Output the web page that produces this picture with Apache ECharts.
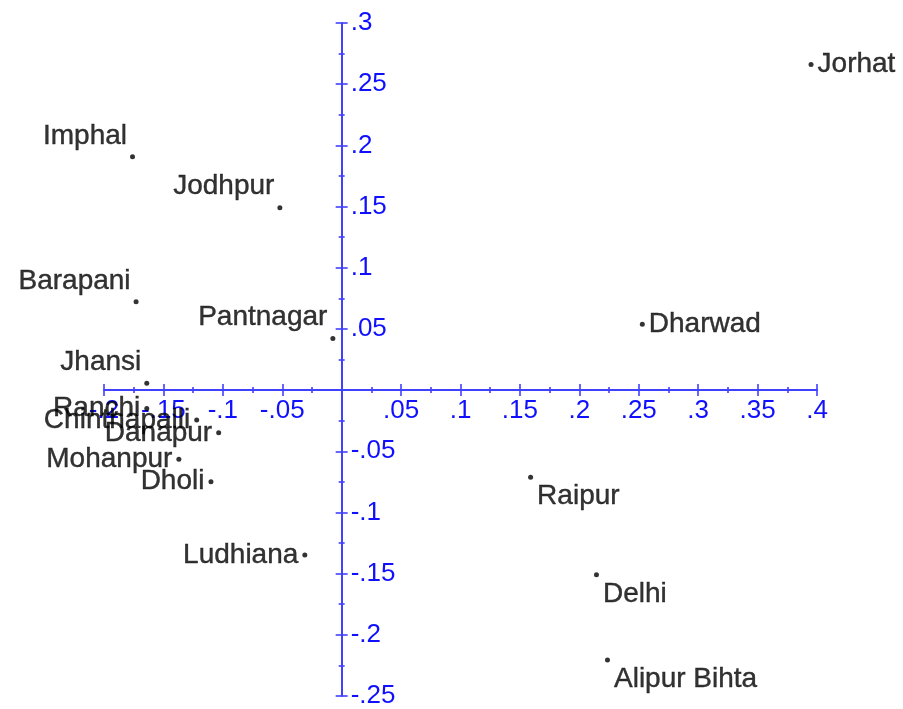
<!DOCTYPE html>
<html>
<head>
<meta charset="utf-8">
<script src="https://cdn.jsdelivr.net/npm/echarts@6/dist/echarts.min.js"></script>
<style>
  html, body { margin: 0; padding: 0; background: #fff; }
  #chart { width: 903px; height: 709px; }
</style>
</head>
<body>
<div id="chart"></div>
<script>
// station names and their coordinates on the two components
const cities = ['Jorhat', 'Imphal', 'Jodhpur', 'Barapani', 'Pantnagar', 'Dharwad', 'Jhansi',
  'Ranchi', 'Chinthapalli', 'Danapur', 'Mohanpur', 'Dholi', 'Ludhiana', 'Raipur', 'Delhi', 'Alipur Bihta']
const xValues = [0.395, -0.176, -0.052, -0.173, -0.0074, 0.253, -0.164,
  -0.164, -0.122, -0.1035, -0.137, -0.110, -0.031, 0.159, 0.2144, 0.2237]
const yValues = [0.266, 0.1906, 0.149, 0.0721, 0.0422, 0.0539, 0.0055,
  -0.015, -0.0245, -0.0349, -0.0566, -0.0749, -0.1348, -0.0713, -0.151, -0.2206]

const xMin = -0.2, xMax = 0.4
const yMin = -0.25, yMax = 0.3
const step = 0.05

// where each name sits relative to its dot
const side = {
  'Jorhat': 'right', 'Dharwad': 'right',
  'Imphal': 'upLeft', 'Jodhpur': 'upLeft', 'Barapani': 'upLeft', 'Pantnagar': 'upLeft', 'Jhansi': 'upLeft',
  'Raipur': 'downRight', 'Delhi': 'downRight', 'Alipur Bihta': 'downRight'
}
const sideStyle = {
  left: { position: 'left', distance: 4 },
  upLeft: { position: 'left', distance: 3, offset: [0, -21] },
  right: { position: 'right', distance: 4 },
  downRight: { position: 'right', distance: 4, offset: [0, 19] }
}

const blue = '#4040ff'
const font = '"Liberation Sans", Arial, sans-serif'

// plot box
const chartW = 903, chartH = 709
const gLeft = 104, gRight = 86, gTop = 23, gBottom = 13
const plotW = chartW - gLeft - gRight, plotH = chartH - gTop - gBottom
// where the zero lines fall, so the labelled axes can sit on them
const zeroX = gLeft + (0 - xMin) / (xMax - xMin) * plotW
const zeroY = gTop + (yMax - 0) / (yMax - yMin) * plotH

function tickText(v) {
  if (Math.abs(v) < 1e-9) return ''
  const s = (+v.toFixed(3)).toString()
  return s.replace(/^(-?)0\./, '$1.')
}

function axis(gridIndex, min, max, position, opts) {
  return {
    type: 'value',
    gridIndex: gridIndex,
    min: min,
    max: max,
    interval: step,
    position: position,
    show: opts.show !== false,
    axisLine: { show: !!opts.line, onZero: !!opts.onZero, lineStyle: { color: blue, width: 2 } },
    axisTick: { show: true, length: 6, lineStyle: { color: blue, width: 1.6 } },
    minorTick: { show: true, splitNumber: 2, length: 3, lineStyle: { color: blue, width: 1.6 } },
    axisLabel: {
      show: !!opts.label,
      color: '#1010ff',
      fontSize: 26,
      fontFamily: font,
      margin: opts.margin || 8,
      formatter: tickText
    },
    splitLine: { show: false },
    minorSplitLine: { show: false }
  }
}

const chart = echarts.init(document.getElementById('chart'))

chart.setOption({
  animation: false,
  backgroundColor: '#fff',
  grid: [
    // main plot: points, axis lines and the half of each tick pointing up / left
    { left: gLeft, right: gRight, top: gTop, bottom: gBottom, outerBoundsMode: 'none' },
    // bottom edge on y = 0: x tick labels and downward ticks
    { left: gLeft, right: gRight, top: gTop, height: zeroY - gTop, outerBoundsMode: 'none' },
    // right edge on x = 0: y tick labels and right-pointing ticks
    { left: gLeft, width: zeroX - gLeft, top: gTop, bottom: gBottom, outerBoundsMode: 'none' }
  ],
  xAxis: [
    axis(0, xMin, xMax, 'top', { line: true, onZero: true }),
    axis(1, xMin, xMax, 'bottom', { label: true, margin: 8 }),
    axis(2, xMin, xMax, 'bottom', { show: false })
  ],
  yAxis: [
    axis(0, yMin, yMax, 'left', { line: true, onZero: true }),
    axis(1, yMin, yMax, 'left', { show: false }),
    axis(2, yMin, yMax, 'right', { label: true, margin: 9 })
  ],
  series: [{
    type: 'scatter',
    xAxisIndex: 0,
    yAxisIndex: 0,
    symbol: 'circle',
    symbolSize: 5,
    itemStyle: { color: '#000' },
    label: {
      show: true,
      formatter: '{b}',
      color: '#000',
      fontSize: 28,
      fontFamily: font,
      textBorderColor: '#000',
      textBorderWidth: 0.4
    },
    data: cities.map((c, i) => ({
      name: c,
      value: [xValues[i], yValues[i]],
      label: sideStyle[side[c] || 'left']
    }))
  }]
})
</script>
</body>
</html>
